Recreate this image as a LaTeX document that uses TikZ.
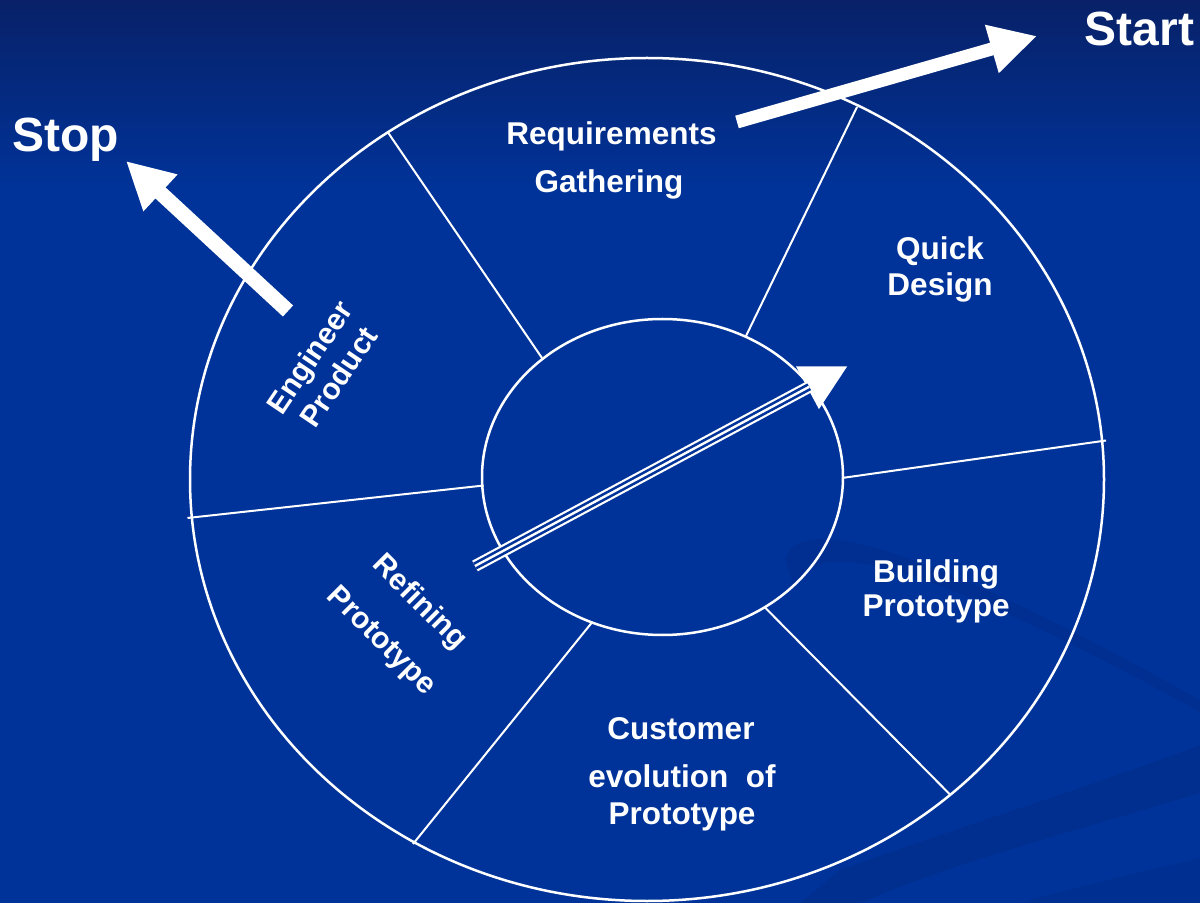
\documentclass[tikz,border=0pt]{standalone}
\usepackage{fontspec}
\setmainfont{Liberation Sans}
\usetikzlibrary{arrows.meta,calc}
\definecolor{bgblue}{RGB}{0,51,153}
\definecolor{topblue}{RGB}{8,33,104}
\definecolor{swoosh}{RGB}{0,44,138}
\begin{document}
\begin{tikzpicture}[x=0.5pt,y=-0.5pt,
  ring/.style={draw=white,line width=1.25pt},
  divider/.style={draw=white,line width=1pt},
  lbl/.style={text=white,font=\fontsize{15.75}{18}\selectfont\bfseries,inner sep=0pt,anchor=base},
  rlbl/.style={text=white,font=\fontsize{15}{17.5}\selectfont\bfseries,inner sep=0pt,align=center},
  rlblwide/.style={rlbl,font=\fontsize{15}{27}\selectfont\bfseries},
  big/.style={text=white,font=\fontsize{24}{28}\selectfont\bfseries,inner sep=0pt,anchor=base},
  bigarrow/.style={draw=white,line width=6.5pt,-{Triangle[length=23.5pt,width=23.5pt]}}
]
\useasboundingbox (0,0) rectangle (1200,903);
\fill[bgblue] (0,0) rectangle (1200,903);
\shade[top color=topblue,bottom color=bgblue] (0,0) rectangle (1200,190);

% faint background swooshes
\fill[swoosh,opacity=0.5] (785,560) .. controls (800,505) and (950,560) .. (1200,700)
   -- (1200,712) .. controls (950,575) and (810,525) .. (795,590) -- cycle;
\fill[swoosh,opacity=0.55] (840,870) .. controls (950,830) and (1080,790) .. (1200,745)
   -- (1200,793) .. controls (1080,830) and (960,860) .. (860,903) -- (800,903) -- cycle;
\fill[swoosh,opacity=0.45] (1020,903) .. controls (1100,880) and (1150,870) .. (1200,858)
   -- (1200,903) -- cycle;

% ring
\draw[ring] (647,479.5) ellipse [x radius=457, y radius=421.5];
\draw[ring] (662.5,477) ellipse [x radius=180.5, y radius=158];

% dividers
\coordinate (d1a) at (388,132.5);  \coordinate (d1b) at (542,358);
\coordinate (d2a) at (857,107);    \coordinate (d2b) at (746,336);
\coordinate (d3a) at (1106,440.5); \coordinate (d3b) at (842,478);
\coordinate (d4a) at (950.5,795);  \coordinate (d4b) at (765,607.5);
\coordinate (d5a) at (413,844);    \coordinate (d5b) at (591.5,623);
\coordinate (d6a) at (187.5,518);  \coordinate (d6b) at (483.7,485.5);
\foreach \i in {1,...,6} {\draw[divider] (d\i a) -- (d\i b);}

% labels
\node[lbl] (req1) at (611.5,145) {Requirements};
\node[lbl] (req2) at (609,193) {Gathering};
\node[lbl] (qd1) at (940,260) {Quick};
\node[lbl] (qd2) at (940,296) {Design};
\node[lbl] (bp1) at (936,582) {Building};
\node[lbl] (bp2) at (936,617) {Prototype};
\node[lbl] (ce1) at (681,739) {Customer};
\node[lbl] (ce2) at (682,787) {evolution\ \ of};
\node[lbl] (ce3) at (682,824) {Prototype};
\node[rlbl,rotate=56] (ep) at (324,367) {Engineer\\Product};
\node[rlblwide,rotate=-45] (rp) at (400,622) {Refining\\Prototype};

\node[big] (start) at (1139.5,46) {Start};
\node[big] (stop) at (65.5,151.5) {Stop};

% big arrows
\coordinate (starttail) at (737,122);
\coordinate (starttip) at (1037,36);
\draw[bigarrow] (starttail) -- (starttip);
\coordinate (stoptail) at (288,311);
\coordinate (stoptip) at (126,161);
\draw[bigarrow,line width=7.5pt] (stoptail) -- (stoptip);

% centre triple arrow
\coordinate (ctail) at (475,566);
\coordinate (ctip) at (848,366);
\draw[white,line width=6pt,-{Triangle[length=23pt,width=22.5pt]}] (ctail) -- (ctip);
\draw[bgblue,line width=3.8pt] (ctail) -- ($(ctip)!22pt!(ctail)$);
\draw[white,line width=1.2pt] (ctail) -- ($(ctip)!22pt!(ctail)$);
\end{tikzpicture}
\end{document}
